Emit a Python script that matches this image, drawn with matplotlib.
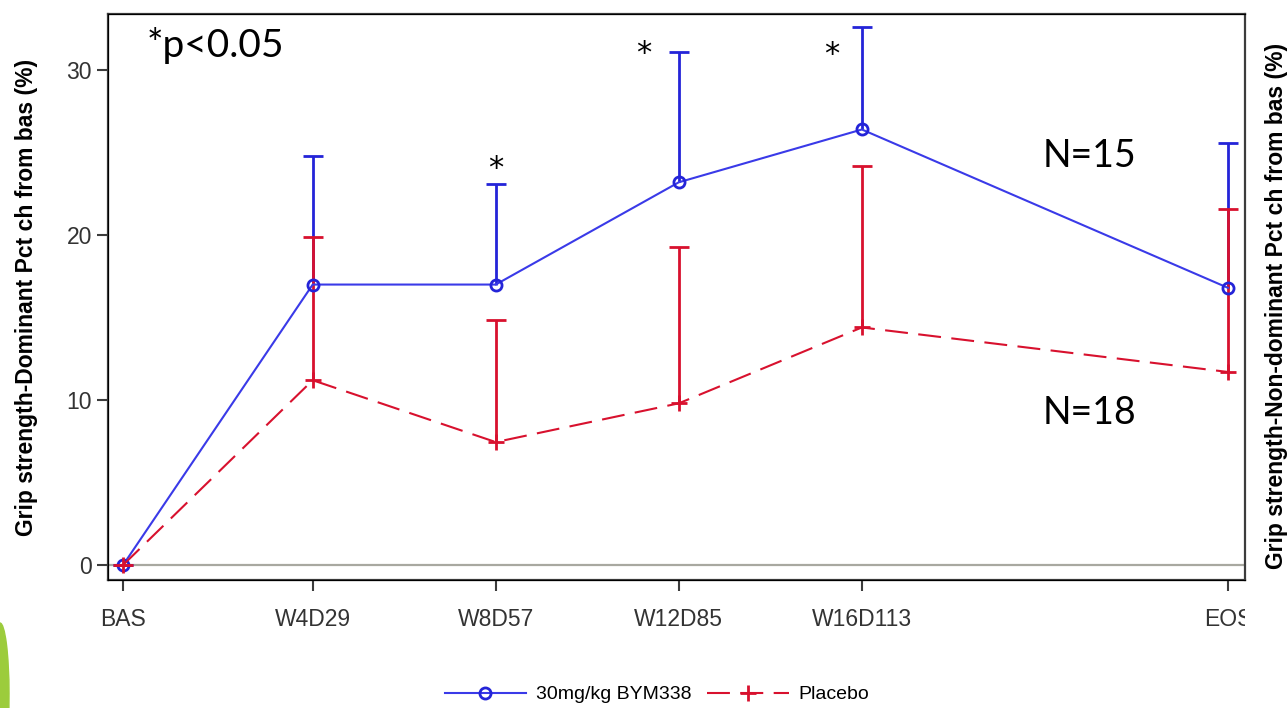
import matplotlib.pyplot as plt
from matplotlib.patches import Ellipse
from matplotlib.transforms import Bbox, TransformedBbox

# visit labels and study day used for x spacing
visits = ["BAS", "W4D29", "W8D57", "W12D85", "W16D113", "EOS"]
visit_day = [0, 29, 57, 85, 113, 169]

# mean % change from baseline and upper error limit
bym_mean = [0.0, 17.0, 17.0, 23.2, 26.4, 16.8]
bym_upper = [0.0, 24.8, 23.1, 31.1, 32.6, 25.6]
pbo_mean = [0.0, 11.2, 7.45, 9.8, 14.4, 11.7]
pbo_upper = [0.0, 19.9, 14.85, 19.3, 24.2, 21.6]

# visits flagged as significant (index into visits)
sig_visits = [2, 3, 4]

BLUE = "#3a3ae8"
BLUE_ERR = "#2424d8"
RED = "#d8112e"
AXIS = "#3c3c3c"

fig = plt.figure(figsize=(12.88, 7.08), dpi=100)
ax = fig.add_axes([0.0839, 0.1808, 0.8827, 0.7994])

ax.axhline(0, color="#a8a8a0", lw=1.6, zorder=1)


def upper_bars(means, uppers, color, z):
    err = [[0] * len(means), [u - m for u, m in zip(uppers, means)]]
    _, caps, _ = ax.errorbar(visit_day, means, yerr=err, fmt="none", ecolor=color,
                             elinewidth=2.0, capsize=7, capthick=2.0, zorder=z)
    caps[0].set_visible(False)  # only the upper half is shown


upper_bars(bym_mean, bym_upper, BLUE_ERR, 3)
upper_bars(pbo_mean, pbo_upper, RED, 4)

ax.plot(visit_day, bym_mean, color=BLUE, lw=1.5, marker="o", ms=8,
        mfc="none", mec=BLUE_ERR, mew=2.0, label="30mg/kg BYM338", zorder=5)
ax.plot(visit_day, pbo_mean, color=RED, lw=1.5, dashes=(11, 5), marker="+",
        ms=11, mew=2.0, label="Placebo", zorder=6)

# significance stars, placed relative to the blue upper cap
star_offsets = {2: (0, 11), 3: (-25, -1), 4: (-22, -20)}
for i in sig_visits:
    ax.annotate("*", (visit_day[i], bym_upper[i]), xytext=star_offsets[i],
                textcoords="offset points", ha="center", va="center",
                fontsize=22, family="DejaVu Sans", color="black")

ax.set_xlim(-2.3, 171.6)
ax.set_ylim(-0.91, 33.4)
ax.set_xticks(visit_day)
ax.set_xticklabels(visits)
ax.set_yticks([0, 10, 20, 30])

for side in ["left", "right", "top", "bottom"]:
    ax.spines[side].set_color(AXIS)
    ax.spines[side].set_linewidth(1.6)
ax.tick_params(axis="both", colors=AXIS, labelcolor="#333333", labelsize=16.5,
               width=1.5, length=8)
ax.tick_params(axis="x", pad=12)
for lbl in ax.get_xticklabels() + ax.get_yticklabels():
    lbl.set_family("Liberation Sans")

# the last visit label is cut at the right edge of the plot frame
clip = TransformedBbox(Bbox([[0, 0], [1245 / 1288, 1]]), fig.transFigure)
eos = ax.get_xticklabels()[-1]
eos.set_clip_on(True)
eos.set_clip_box(clip)

ax.set_ylabel("Grip strength-Dominant Pct ch from bas (%)", fontsize=16.5,
              fontweight="bold", family="Liberation Sans")
ax.yaxis.set_label_coords(-0.062, 0.5)
ax2 = ax.twinx()
ax2.set_ylim(ax.get_ylim())
ax2.set_yticks([])
ax2.spines["right"].set_visible(False)
ax2.set_ylabel("Grip strength-Non-dominant Pct ch from bas (%)", fontsize=16.5,
               fontweight="bold", family="Liberation Sans")
ax2.yaxis.set_label_coords(1.018, 0.485)

ax.text(0.034, 0.945, "*p<0.05", transform=ax.transAxes, fontsize=28,
        family="Lato", va="center", ha="left")
ax.text(0.822, 0.75, "N=15", transform=ax.transAxes, fontsize=27,
        family="Lato", va="center", ha="left")
ax.text(0.822, 0.295, "N=18", transform=ax.transAxes, fontsize=27,
        family="Lato", va="center", ha="left")

leg = ax.legend(loc="center", bbox_to_anchor=(0.51, 0.019),
                bbox_transform=fig.transFigure, ncol=2, frameon=False,
                prop={"family": "Liberation Sans", "size": 14},
                handlelength=4.2, columnspacing=0.8, handletextpad=0.5)

# green slide decoration in the bottom-left corner
fig.add_artist(Ellipse((0.0, 0.02), 0.014, 0.2, transform=fig.transFigure,
                       color="#9ccc3c", zorder=0))

fig.savefig("out.png", dpi=100)
